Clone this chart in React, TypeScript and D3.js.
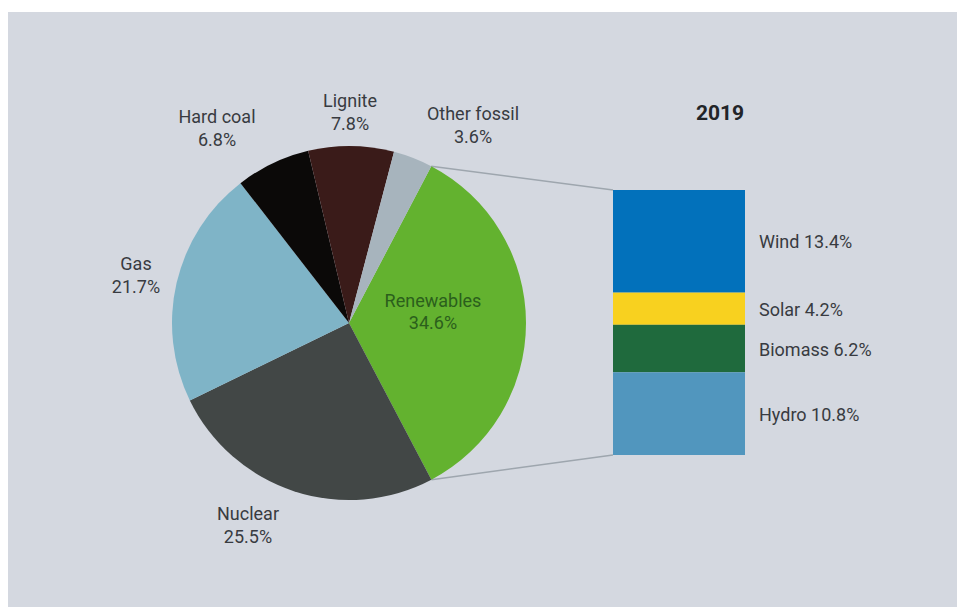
import React from "react";
import * as d3 from "d3";

const pieCategories = ["Renewables", "Nuclear", "Gas", "Hard coal", "Lignite", "Other fossil"];
const pieValues = [34.6, 25.5, 21.7, 6.8, 7.8, 3.6];
const pieColors = ["#63b22f", "#424746", "#7fb4c7", "#0b0908", "#3a1b19", "#a7b4bd"];

const barCategories = ["Wind", "Solar", "Biomass", "Hydro"];
const barValues = [13.4, 4.2, 6.2, 10.8];
const barColors = ["#0271bb", "#f8d11f", "#1f6a3d", "#5196be"];

const yearLabel = "2019";

const W = 957;
const H = 607;
const FONT = "Roboto, 'Open Sans', sans-serif";
const TEXT = "#383b41";

// pie label placement (center x, first-line baseline)
const pieLabelPos: Record<string, [number, number]> = {
  "Renewables": [433, 307],
  "Nuclear": [248, 520],
  "Gas": [136, 270],
  "Hard coal": [217, 123],
  "Lignite": [350, 107],
  "Other fossil": [473, 120],
};

export default function App() {
  const cx = 349;
  const cy = 323;
  const r = 177;
  const startA = (27.7 * Math.PI) / 180;

  const pie = d3
    .pie<number>()
    .sort(null)
    .value((d) => d)
    .startAngle(startA)
    .endAngle(startA + 2 * Math.PI);
  const arcs = pie(pieValues);
  const arcGen = d3.arc<d3.PieArcDatum<number>>().innerRadius(0).outerRadius(r);

  const barX0 = 613;
  const barX1 = 745;
  const total = d3.sum(barValues);
  const y = d3.scaleLinear().domain([0, total]).range([190, 455]);
  const cum = barValues.map((v, i) => d3.sum(barValues.slice(0, i)));

  const renew = arcs[0];
  const pt = (a: number): [number, number] => [cx + r * Math.sin(a), cy - r * Math.cos(a)];
  const pTop = pt(renew.startAngle);
  const pBot = pt(renew.endAngle);

  return (
    <svg
      width={W}
      height={H}
      style={{ position: "absolute", left: 0, top: 0, display: "block" }}
      fontFamily={FONT}
    >
      <rect x={0} y={0} width={W} height={H} fill="#ffffff" />
      <rect x={8} y={12} width={W - 8} height={H - 12} fill="#d4d8e0" />

      <line x1={pTop[0]} y1={pTop[1]} x2={barX0} y2={y(0)} stroke="#9ea6ae" strokeWidth={1.5} />
      <line x1={pBot[0]} y1={pBot[1]} x2={barX0} y2={y(total)} stroke="#9ea6ae" strokeWidth={1.5} />

      <g transform={`translate(${cx},${cy})`}>
        {arcs.map((a, i) => (
          <path key={pieCategories[i]} d={arcGen(a) || ""} fill={pieColors[i]} />
        ))}
      </g>

      {pieCategories.map((c, i) => {
        const [lx, ly] = pieLabelPos[c];
        const isRen = c === "Renewables";
        return (
          <text
            key={c}
            x={lx}
            y={ly}
            textAnchor="middle"
            fontSize={18}
            fill={isRen ? "#2b5f1c" : TEXT}
          >
            <tspan x={lx}>{c}</tspan>
            <tspan x={lx} dy={isRen ? 22 : 23}>
              {pieValues[i].toFixed(1)}%
            </tspan>
          </text>
        );
      })}

      {barValues.map((v, i) => (
        <rect
          key={barCategories[i]}
          x={barX0}
          y={y(cum[i])}
          width={barX1 - barX0}
          height={y(cum[i] + v) - y(cum[i])}
          fill={barColors[i]}
        />
      ))}
      {barValues.map((v, i) => {
        const mid = (y(cum[i]) + y(cum[i] + v)) / 2;
        return (
          <text key={"l" + i} x={759} y={mid + 7} fontSize={18} fill={TEXT}>
            {barCategories[i]} {v.toFixed(1)}%
          </text>
        );
      })}

      <text x={720} y={120} textAnchor="middle" fontSize={21} fontWeight="bold" fill="#222428">
        {yearLabel}
      </text>
    </svg>
  );
}
